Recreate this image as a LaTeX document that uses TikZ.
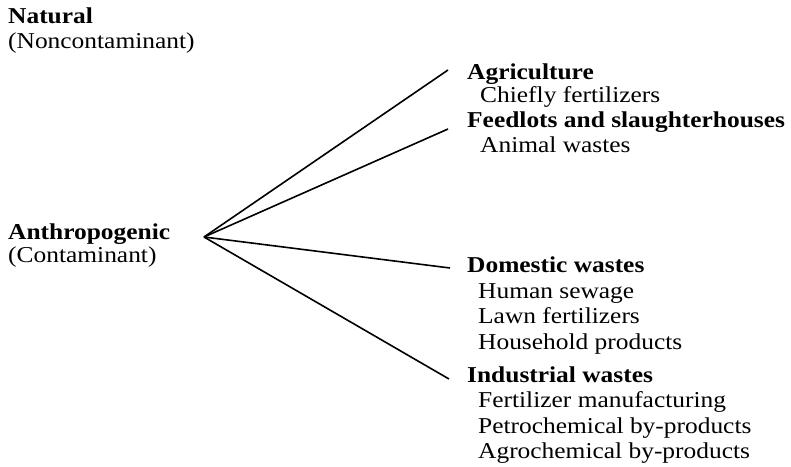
\documentclass[tikz,border=0pt]{standalone}
\usepackage{fontspec}
\setmainfont{Liberation Serif}[FakeStretch=1.12]
\begin{document}
\begin{tikzpicture}[x=1pt,y=-1pt,
  txt/.style={inner sep=0pt,anchor=base west,font=\fontsize{22.7}{25}\selectfont},
  head/.style={txt,font=\fontsize{22.7}{25}\selectfont\bfseries},
  link/.style={draw=black,line width=1.6pt}]
\useasboundingbox[fill=white] (0,0) rectangle (791,466);
% left labels
\node[head] (nat) at (8,23) {Natural};
\node[txt] (natsub) at (8,48) {(Noncontaminant)};
\node[head] (anth) at (8,239) {Anthropogenic};
\node[txt] (anthsub) at (8,262) {(Contaminant)};
% right labels
\node[head] (agri) at (467,79) {Agriculture};
\node[txt] (agri1) at (480,102) {Chiefly fertilizers};
\node[head] (feed) at (467,127) {Feedlots and slaughterhouses};
\node[txt] (feed1) at (480,152) {Animal wastes};
\node[head] (dom) at (467,272) {Domestic wastes};
\node[txt] (dom1) at (478,298) {Human sewage};
\node[txt] (dom2) at (478,323) {Lawn fertilizers};
\node[txt] (dom3) at (478,349) {Household products};
\node[head] (ind) at (467,382) {Industrial wastes};
\node[txt] (ind1) at (478,407) {Fertilizer manufacturing};
\node[txt] (ind2) at (478,433) {Petrochemical by-products};
\node[txt] (ind3) at (478,458) {Agrochemical by-products};
% connector ends
\coordinate (hub) at (204,237);
\coordinate (eagri) at (448,70);
\coordinate (efeed) at (448,129);
\coordinate (edom) at (450,268);
\coordinate (eind) at (449,379);
\draw[link] (hub) -- (eagri);
\draw[link] (hub) -- (efeed);
\draw[link] (hub) -- (edom);
\draw[link] (hub) -- (eind);
\end{tikzpicture}
\end{document}
